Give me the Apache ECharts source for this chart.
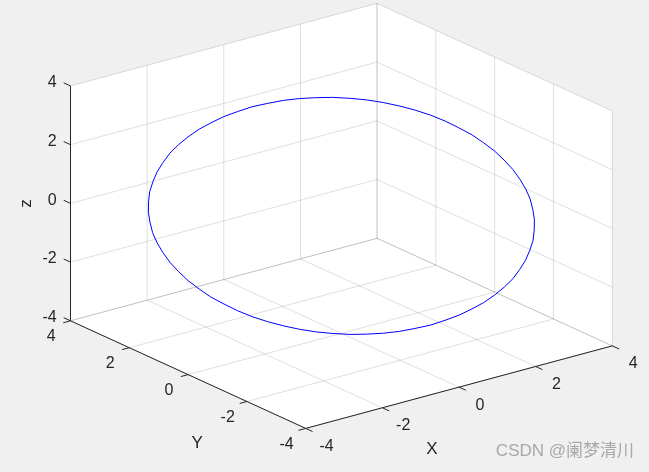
<!DOCTYPE html>
<html><head><meta charset="utf-8">
<script src="https://cdn.jsdelivr.net/npm/echarts@6/dist/echarts.min.js"></script>
<style>html,body{margin:0;padding:0;background:#f0f0f0}#c{width:649px;height:472px}</style>
</head><body><div id="c"></div>
<script>
// ---- data ----
const xTicks = [-4, -2, 0, 2, 4];
const yTicks = [-4, -2, 0, 2, 4];
const zTicks = [-4, -2, 0, 2, 4];
const xTickLabels = ['-4', '-2', '0', '2', '4'];
const yTickLabels = ['-4', '-2', '0', '2', '4'];
const zTickLabels = ['-4', '-2', '0', '2', '4'];
const axisTitleX = 'X';
const axisTitleY = 'Y';
const axisTitleZ = 'z';
const watermark = 'CSDN @阑梦清川';
const circleX = [4, 3.98, 3.94, 3.86, 3.76, 3.63, 3.46, 3.28, 3.06, 2.83, 2.57, 2.29, 2, 1.69, 1.37, 1.04, 0.69, 0.35, 0, -0.35, -0.69, -1.04, -1.37, -1.69, -2, -2.29, -2.57, -2.83, -3.06, -3.28, -3.46, -3.63, -3.76, -3.86, -3.94, -3.98, -4,
  -3.98, -3.94, -3.86, -3.76, -3.63, -3.46, -3.28, -3.06, -2.83, -2.57, -2.29, -2, -1.69, -1.37, -1.04, -0.69, -0.35, 0, 0.35, 0.69, 1.04, 1.37, 1.69, 2, 2.29, 2.57, 2.83, 3.06, 3.28, 3.46, 3.63, 3.76, 3.86, 3.94, 3.98, 4];
const circleY = [0, 0.35, 0.69, 1.04, 1.37, 1.69, 2, 2.29, 2.57, 2.83, 3.06, 3.28, 3.46, 3.63, 3.76, 3.86, 3.94, 3.98, 4, 3.98, 3.94, 3.86, 3.76, 3.63, 3.46, 3.28, 3.06, 2.83, 2.57, 2.29, 2, 1.69, 1.37, 1.04, 0.69, 0.35, 0,
  -0.35, -0.69, -1.04, -1.37, -1.69, -2, -2.29, -2.57, -2.83, -3.06, -3.28, -3.46, -3.63, -3.76, -3.86, -3.94, -3.98, -4, -3.98, -3.94, -3.86, -3.76, -3.63, -3.46, -3.28, -3.06, -2.83, -2.57, -2.29, -2, -1.69, -1.37, -1.04, -0.69, -0.35, 0];
const circleZ = [0.8, 0.93, 1.06, 1.17, 1.28, 1.38, 1.47, 1.54, 1.61, 1.66, 1.70, 1.73, 1.74, 1.74, 1.73, 1.70, 1.67, 1.61, 1.55, 1.47, 1.39, 1.29, 1.18, 1.07, 0.94, 0.81, 0.67, 0.53, 0.38, 0.23, 0.08, -0.07, -0.22, -0.37, -0.52, -0.66, -0.8,
  -0.93, -1.06, -1.17, -1.28, -1.38, -1.47, -1.54, -1.61, -1.66, -1.70, -1.73, -1.74, -1.74, -1.73, -1.70, -1.67, -1.61, -1.55, -1.47, -1.39, -1.29, -1.18, -1.07, -0.94, -0.81, -0.67, -0.53, -0.38, -0.23, -0.08, 0.07, 0.22, 0.37, 0.52, 0.66, 0.8];

// ---- view (MATLAB default az/el, stretch-to-fill) ----
const AZ = -37.5, EL = 30, SX = 48.3, SY = 33.9, CX = 341.4, CY = 215.9;
const a = AZ * Math.PI / 180, e = EL * Math.PI / 180;
function proj(x, y, z) {
  const u = Math.cos(a) * x + Math.sin(a) * y;
  const v = -Math.sin(e) * Math.sin(a) * x + Math.sin(e) * Math.cos(a) * y + Math.cos(e) * z;
  return [CX + SX * u, CY - SY * v];
}
const X0 = xTicks[0], X1 = xTicks[xTicks.length - 1];
const Y0 = yTicks[0], Y1 = yTicks[yTicks.length - 1];
const Z0 = zTicks[0], Z1 = zTicks[zTicks.length - 1];

function dir(dx, dy, dz) {
  const p0 = proj(0, 0, 0), p1 = proj(dx, dy, dz);
  const vx = p1[0] - p0[0], vy = p1[1] - p0[1], l = Math.hypot(vx, vy);
  return [vx / l, vy / l];
}

const FONT = '16px "Liberation Sans", Arial, Helvetica, sans-serif';
const TFONT = '17px "Liberation Sans", Arial, Helvetica, sans-serif';
const AX = '#262626';
const GRID = 'rgba(38,38,38,0.15)';
const shapes = [];
// panes
shapes.push({ t: 'poly', p: [[X0, Y1, Z0], [X1, Y1, Z0], [X1, Y1, Z1], [X0, Y1, Z1]] });
shapes.push({ t: 'poly', p: [[X1, Y1, Z0], [X1, Y0, Z0], [X1, Y0, Z1], [X1, Y1, Z1]] });
shapes.push({ t: 'poly', p: [[X0, Y1, Z0], [X0, Y0, Z0], [X1, Y0, Z0], [X1, Y1, Z0]] });
// grid lines
xTicks.forEach(v => { shapes.push({ t: 'grid', p: [[v, Y1, Z0], [v, Y1, Z1]] }); shapes.push({ t: 'grid', p: [[v, Y0, Z0], [v, Y1, Z0]] }); });
yTicks.forEach(v => { shapes.push({ t: 'grid', p: [[X1, v, Z0], [X1, v, Z1]] }); shapes.push({ t: 'grid', p: [[X0, v, Z0], [X1, v, Z0]] }); });
zTicks.forEach(v => { shapes.push({ t: 'grid', p: [[X0, Y1, v], [X1, Y1, v]] }); shapes.push({ t: 'grid', p: [[X1, Y0, v], [X1, Y1, v]] }); });

const fg = []; // drawn above the data line
fg.push({ t: 'axis', p: [[X0, Y1, Z0], [X0, Y1, Z1]] });
fg.push({ t: 'axis', p: [[X0, Y0, Z0], [X0, Y1, Z0]] });
fg.push({ t: 'axis', p: [[X0, Y0, Z0], [X1, Y0, Z0]] });
const TL = 7.5;
const dz = dir(0, 1, 0), dy = dir(-1, 0, 0), dx = dir(0, -1, 0);
zTicks.forEach((v, i) => { const b = proj(X0, Y1, v); const en = [b[0] + dz[0] * TL, b[1] + dz[1] * TL];
  fg.push({ t: 'tick', s: [b, en] }); fg.push({ t: 'text', x: en[0] - 7, y: en[1], s: zTickLabels[i], al: 'right' }); });
yTicks.forEach((v, i) => { const b = proj(X0, v, Z0); const en = [b[0] + dy[0] * TL, b[1] + dy[1] * TL];
  fg.push({ t: 'tick', s: [b, en] }); fg.push({ t: 'text', x: en[0] - 12, y: en[1] + 14, s: yTickLabels[i], al: 'center' }); });
xTicks.forEach((v, i) => { const b = proj(v, Y0, Z0); const en = [b[0] + dx[0] * TL, b[1] + dx[1] * TL];
  fg.push({ t: 'tick', s: [b, en] }); fg.push({ t: 'text', x: en[0] + 14, y: en[1] + 15, s: xTickLabels[i], al: 'center' }); });
{ const m = proj((X0 + X1) / 2, Y0, Z0); fg.push({ t: 'title', x: m[0] - 27, y: m[1] + 62, s: axisTitleX }); }
{ const m = proj(X0, (Y0 + Y1) / 2, Z0); fg.push({ t: 'title', x: m[0] + 9, y: m[1] + 69, s: axisTitleY }); }
{ const m = proj(X0, Y1, (Z0 + Z1) / 2); fg.push({ t: 'title', x: m[0] - 44, y: m[1], s: axisTitleZ, rot: Math.PI / 2 }); }

function render(list) {
  return function (params, api) {
    const s = list[params.dataIndex];
    if (s.t === 'poly') {
      return { type: 'polygon', shape: { points: s.p.map(q => api.coord(proj(q[0], q[1], q[2]))) }, style: { fill: '#ffffff', stroke: null } };
    }
    if (s.t === 'grid' || s.t === 'axis') {
      const p1 = api.coord(proj(...s.p[0])), p2 = api.coord(proj(...s.p[1]));
      return { type: 'line', shape: { x1: p1[0], y1: p1[1], x2: p2[0], y2: p2[1] }, style: { stroke: s.t === 'grid' ? GRID : AX, lineWidth: 1 } };
    }
    if (s.t === 'tick') {
      const p1 = api.coord(s.s[0]), p2 = api.coord(s.s[1]);
      return { type: 'line', shape: { x1: p1[0], y1: p1[1], x2: p2[0], y2: p2[1] }, style: { stroke: AX, lineWidth: 1 } };
    }
    if (s.t === 'text' || s.t === 'title') {
      const p = api.coord([s.x, s.y]);
      return { type: 'text', x: p[0], y: p[1], rotation: s.rot || 0,
        style: { text: s.s, fill: AX, font: s.t === 'text' ? FONT : TFONT, align: s.al || 'center', verticalAlign: 'middle' } };
    }
  };
}

const chart = echarts.init(document.getElementById('c'), null, { renderer: 'canvas' });
chart.setOption({
  backgroundColor: '#f0f0f0',
  animation: false,
  grid: { left: 0, right: 0, top: 0, bottom: 0 },
  xAxis: { type: 'value', min: 0, max: 649, show: false },
  yAxis: { type: 'value', min: 0, max: 472, inverse: true, show: false },
  graphic: [{ type: 'text', right: 15, top: 443, style: { text: watermark, fill: '#a8a8a8', font: '17px "Liberation Sans", "Noto Sans CJK SC", sans-serif' } }],
  series: [
    { type: 'custom', silent: true, clip: false, renderItem: render(shapes), data: shapes.map((s, i) => [i, 0]), z: 1 },
    { type: 'line', silent: true, showSymbol: false, clip: false, z: 2,
      data: circleX.map((x, i) => proj(x, circleY[i], circleZ[i])),
      lineStyle: { color: '#0000ff', width: 1 } },
    { type: 'custom', silent: true, clip: false, renderItem: render(fg), data: fg.map((s, i) => [i, 0]), z: 3 }
  ]
});
</script></body></html>
